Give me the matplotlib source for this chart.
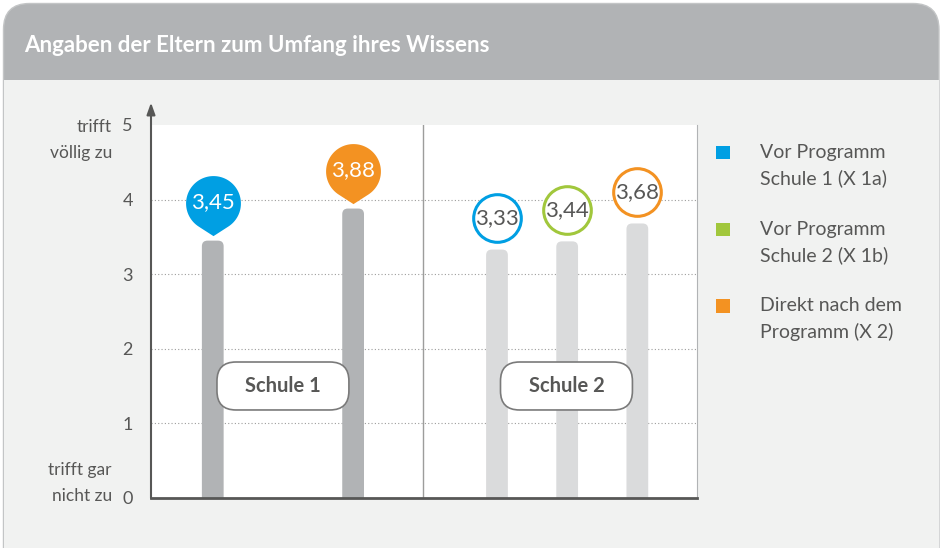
import numpy as np
import matplotlib.pyplot as plt
from matplotlib.patches import FancyBboxPatch, Rectangle
from matplotlib.path import Path

plt.rcParams['font.family'] = ['Lato', 'DejaVu Sans']

# --------------- Daten ---------------
title = "Angaben der Eltern zum Umfang ihres Wissens"
schulen = ["Schule 1", "Schule 2"]
groups = ["Vor Programm\nSchule 1 (X 1a)",
          "Vor Programm\nSchule 2 (X 1b)",
          "Direkt nach dem\nProgramm (X 2)"]
schule1_values = [3.45, 3.88]
schule1_series = [0, 2]          # Index in groups
schule2_values = [3.33, 3.44, 3.68]
schule2_series = [0, 1, 2]
yticks = [0, 1, 2, 3, 4, 5]

# --------------- Farben ---------------
BLUE = "#009fe3"
GREEN = "#a1c73c"
ORANGE = "#f39222"
series_colors = [BLUE, GREEN, ORANGE]
HEADER = "#b1b3b5"
BODY = "#f1f2f1"
TEXT = "#575756"
BAR1 = "#b1b3b5"
BAR2 = "#dadbdc"

# x-Positionen der Balken
x1 = [0, 2]
x2 = [4.05, 5.05, 6.05]
ASPECT = 70.2 / 74.6   # px pro x-Einheit / px pro y-Einheit


def fmt(v):
    return f"{v:.2f}".replace(".", ",")


# Pin-Marker (Kreis mit Spitze nach unten)
d = 1.19
a = np.degrees(np.arccos(1 / d))
ang = np.radians(np.linspace(-90 + a, 270 - a, 80))
verts = [(0, -d)] + list(zip(np.cos(ang), np.sin(ang))) + [(0, -d)]
pin = Path(verts, [Path.MOVETO] + [Path.LINETO] * (len(verts) - 2) + [Path.CLOSEPOLY])

fig = plt.figure(figsize=(9.42, 5.48), dpi=100)

# ********** Hintergrund / Karte **********
bg = fig.add_axes([0, 0, 1, 1])
bg.set_xlim(0, 942)
bg.set_ylim(548, 0)
bg.axis("off")
bg.add_patch(FancyBboxPatch((3.5, 3.5), 935.5, 600, boxstyle="round,pad=0,rounding_size=26",
                            fc=HEADER, ec="#c3c5c6", lw=1))
bg.add_patch(Rectangle((4, 80), 934.5, 470, fc=BODY, ec="none"))
bg.text(24, 45, title, color="white", fontsize=16, fontweight="bold", va="center")

# y-Achsen Beschriftung
bg.text(112, 127, "trifft", ha="right", va="center", fontsize=12.5, color=TEXT)
bg.text(112, 153, "völlig zu", ha="right", va="center", fontsize=12.5, color=TEXT)
bg.text(112, 470, "trifft gar", ha="right", va="center", fontsize=12.5, color=TEXT)
bg.text(112, 496, "nicht zu", ha="right", va="center", fontsize=12.5, color=TEXT)

# Legende
for i, (lab, c) in enumerate(zip(groups, series_colors)):
    yc = [152, 229, 305.5][i]
    bg.add_patch(Rectangle((716, yc - 6.5), 13.5, 13.5, fc=c, ec="none"))
    bg.text(760, yc + 13.5, lab, va="center", ha="left", fontsize=14,
            color=TEXT, linespacing=1.6)

# ********** Diagramm **********
ax = fig.add_axes([151 / 942, 50 / 548, 546 / 942, 373 / 548])
ax.set_xlim(-0.88, 6.9)
ax.set_ylim(0, 5)
ax.set_facecolor("white")
ax.set_xticks([])
ax.set_yticks(yticks)
ax.set_yticklabels([str(t) for t in yticks], fontsize=13, color=TEXT)
ax.tick_params(axis="y", length=0, pad=13)
ax.spines["top"].set_visible(False)
ax.spines["left"].set_visible(False)
ax.spines["right"].set_color("#b1b3b5")
ax.spines["right"].set_linewidth(0.8)
ax.spines["bottom"].set_color(TEXT)
ax.spines["bottom"].set_linewidth(2)

for v in yticks[1:-1]:
    ax.axhline(v, color="#9d9d9c", ls=(0, (1, 2)), lw=0.8, zorder=0)
ax.axvline(3.0, color="#9d9d9c", lw=1, zorder=1)

ax.annotate("", xy=(-0.88, 5.3), xytext=(-0.88, 0), xycoords="data",
            arrowprops=dict(arrowstyle="-|>,head_length=0.7,head_width=0.25",
                            color=TEXT, lw=1.5, shrinkA=0, shrinkB=0),
            annotation_clip=False)

# Schule 1: Balken + Pins
for x, v, s in zip(x1, schule1_values, schule1_series):
    ax.add_patch(FancyBboxPatch((x - 0.155, -0.3), 0.31, v + 0.3,
                                boxstyle="round,pad=0,rounding_size=0.08",
                                mutation_aspect=ASPECT, fc=BAR1, ec="none", zorder=2))
    ax.plot(x, v + 0.51, marker=pin, ms=47, color=series_colors[s], mec="none",
            clip_on=False, zorder=5)
    ax.text(x, v + 0.51, fmt(v), ha="center", va="center", color="white",
            fontsize=16, zorder=6)

# Schule 2: Balken + Kreise
for x, v, s in zip(x2, schule2_values, schule2_series):
    ax.add_patch(FancyBboxPatch((x - 0.155, -0.3), 0.31, v + 0.3,
                                boxstyle="round,pad=0,rounding_size=0.08",
                                mutation_aspect=ASPECT, fc=BAR2, ec="none", zorder=2))
    ax.plot(x, v + 0.42, "o", ms=34.3, mfc="white", mec=series_colors[s], mew=2.2,
            clip_on=False, zorder=5)
    ax.text(x, v + 0.42, fmt(v), ha="center", va="center", color=TEXT,
            fontsize=16, zorder=6)

# Schul-Labels
for cx, name in zip([1.0, 5.04], schulen):
    ax.add_patch(FancyBboxPatch((cx - 0.94, 1.5 - 0.32), 1.88, 0.643,
                                boxstyle="round,pad=0,rounding_size=0.27",
                                mutation_aspect=ASPECT, fc="white", ec="#7a7a7a",
                                lw=1.2, zorder=4))
    ax.text(cx, 1.5, name, ha="center", va="center", fontsize=14.5,
            fontweight="bold", color=TEXT, zorder=5)

fig.savefig("out.png", dpi=100)
